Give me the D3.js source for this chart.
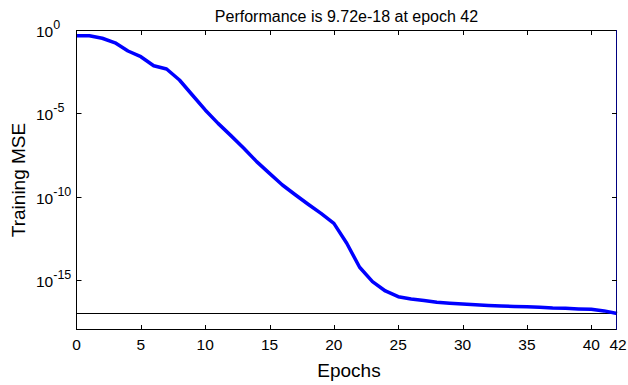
<!DOCTYPE html>
<html>
<head>
<meta charset="utf-8">
<script src="https://cdn.jsdelivr.net/npm/d3@7"></script>
<style>
  html, body { margin: 0; padding: 0; background: #fff; }
  svg { display: block; font-family: "Liberation Sans", Arial, sans-serif; }
</style>
</head>
<body>
<svg id="chart" width="628" height="385"></svg>
<script>
// Training record: MSE per epoch
const epochs = d3.range(0, 43);
const mse = [
  0.45, 0.45, 0.32, 0.17, 0.055, 0.025, 0.0072, 0.0046, 1.0e-3, 1.26e-4,
  1.6e-5, 2.5e-6, 4.6e-7, 8.0e-8, 1.26e-8, 2.5e-9, 5.0e-10, 1.3e-10, 3.5e-11, 1.0e-11,
  2.5e-12, 1.6e-13, 5.8e-15, 8.0e-16, 2.2e-16, 1.0e-16, 7.2e-17, 5.8e-17, 4.6e-17, 4.0e-17,
  3.6e-17, 3.3e-17, 3.0e-17, 2.8e-17, 2.6e-17, 2.5e-17, 2.3e-17, 2.1e-17, 2.0e-17, 1.85e-17,
  1.74e-17, 1.4e-17, 9.72e-18
];
const goal = 1e-17;
const xTicks = [0, 5, 10, 15, 20, 25, 30, 35, 40, 42];
const yTickExps = [0, -5, -10, -15];
const titleText = "Performance is 9.72e-18 at epoch 42";
const xLabel = "Epochs";
const yLabel = "Training MSE";

const svg = d3.select("#chart");
const m = { left: 76.5, right: 617, top: 30, bottom: 330 };

const x = d3.scaleLinear().domain([0, 42]).range([m.left, m.right]);
const y = d3.scaleLog().domain([1e-18, 1]).range([m.bottom, m.top]);

// Goal line
svg.append("line")
  .attr("x1", m.left).attr("x2", m.right)
  .attr("y1", Math.round(y(goal)) + 0.5).attr("y2", Math.round(y(goal)) + 0.5)
  .attr("stroke", "#000").attr("stroke-width", 1);

// Performance curve
const line = d3.line().x((d, i) => x(epochs[i])).y(d => y(d));
svg.append("path")
  .datum(mse)
  .attr("d", line)
  .attr("fill", "none")
  .attr("stroke", "#0000ff")
  .attr("stroke-width", 3.5)
  .attr("stroke-linejoin", "round");

// Axes box
const box = svg.append("g").attr("stroke-width", 1).attr("fill", "none");
box.append("line").attr("x1", m.left).attr("x2", m.right).attr("y1", m.top + 0.5).attr("y2", m.top + 0.5).attr("stroke", "#000");
box.append("line").attr("x1", m.left).attr("x2", m.right).attr("y1", m.bottom - 0.5).attr("y2", m.bottom - 0.5).attr("stroke", "#000");
box.append("line").attr("x1", m.left).attr("x2", m.left).attr("y1", m.top).attr("y2", m.bottom).attr("stroke", "#000");
box.append("line").attr("x1", m.right - 0.5).attr("x2", m.right - 0.5).attr("y1", m.top).attr("y2", m.bottom).attr("stroke", "#000080");

// Inward ticks
const tl = 5;
const ticks = svg.append("g").attr("stroke", "#000").attr("stroke-width", 1);
xTicks.filter(t => t > 0 && t < 42).forEach(t => {
  const px = Math.round(x(t)) + 0.5;
  ticks.append("line").attr("x1", px).attr("x2", px).attr("y1", m.bottom).attr("y2", m.bottom - tl);
  ticks.append("line").attr("x1", px).attr("x2", px).attr("y1", m.top).attr("y2", m.top + tl);
});
yTickExps.filter(e => e < 0).forEach(e => {
  const py = Math.round(y(Math.pow(10, e))) + 0.5;
  ticks.append("line").attr("x1", m.left).attr("x2", m.left + tl).attr("y1", py).attr("y2", py);
  ticks.append("line").attr("x1", m.right).attr("x2", m.right - tl).attr("y1", py).attr("y2", py);
});

// X tick labels
svg.append("g").selectAll("text").data(xTicks).join("text")
  .attr("x", d => x(d) + (d === 42 ? 1 : 0))
  .attr("y", 350)
  .attr("text-anchor", "middle")
  .attr("font-size", 15.5)
  .attr("fill", "#000")
  .text(d => d);

// Y tick labels: 10 with superscript exponent
const yl = svg.append("g").attr("fill", "#000");
yTickExps.forEach(e => {
  const t = yl.append("text")
    .attr("x", 36)
    .attr("y", y(Math.pow(10, e)) + 7)
    .attr("font-size", 15.5);
  t.append("tspan").text("10");
  t.append("tspan").attr("font-size", 12.5).attr("dy", -8).text(String(e));
});

// Title
svg.append("text")
  .attr("x", 346.5).attr("y", 21.5)
  .attr("text-anchor", "middle")
  .attr("font-size", 16)
  .attr("fill", "#000")
  .text(titleText);

// Axis labels
svg.append("text")
  .attr("x", 349).attr("y", 377)
  .attr("text-anchor", "middle")
  .attr("font-size", 19)
  .attr("fill", "#000")
  .text(xLabel);

svg.append("text")
  .attr("transform", "translate(25,180) rotate(-90)")
  .attr("text-anchor", "middle")
  .attr("font-size", 19)
  .attr("fill", "#000")
  .text(yLabel);
</script>
</body>
</html>
